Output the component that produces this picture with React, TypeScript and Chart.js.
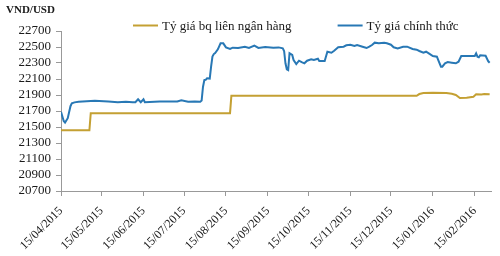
import React, { useEffect, useRef } from 'react';
import { Chart, registerables } from 'chart.js';

Chart.register(...registerables);

const START_DATE = '2015-04-15';
const END_DATE = '2016-02-27';

const tickDates = [
  '2015-04-15', '2015-05-15', '2015-06-15', '2015-07-15', '2015-08-15', '2015-09-15',
  '2015-10-15', '2015-11-15', '2015-12-15', '2016-01-15', '2016-02-15',
];
const tickLabels = [
  '15/04/2015', '15/05/2015', '15/06/2015', '15/07/2015', '15/08/2015', '15/09/2015',
  '15/10/2015', '15/11/2015', '15/12/2015', '15/01/2016', '15/02/2016',
];

const yMin = 20700;
const yMax = 22700;
const yStep = 200;

const seriesNames = ['Tỷ giá bq liên ngân hàng', 'Tỷ giá chính thức'];
const seriesColors = ['#c4a033', '#2878b5'];

const interbankDates = [
  '2015-04-15', '2015-05-06', '2015-05-07', '2015-08-18', '2015-08-19', '2016-01-03',
  '2016-01-05', '2016-01-08', '2016-01-15', '2016-01-25', '2016-01-29', '2016-02-01',
  '2016-02-04', '2016-02-09', '2016-02-14', '2016-02-16', '2016-02-20', '2016-02-22',
  '2016-02-26',
];
const interbankValues = [
  21458, 21458, 21673, 21673, 21890, 21890,
  21912, 21925, 21929, 21926, 21915, 21900,
  21862, 21865, 21878, 21908, 21905, 21912,
  21910,
];

const officialDates = [
  '2015-04-15', '2015-04-17', '2015-04-18', '2015-04-20', '2015-04-22', '2015-04-23',
  '2015-04-25', '2015-04-28', '2015-05-07', '2015-05-10', '2015-05-20', '2015-05-27',
  '2015-06-02', '2015-06-07', '2015-06-09', '2015-06-11', '2015-06-13', '2015-06-15',
  '2015-06-16', '2015-06-27', '2015-07-10', '2015-07-13', '2015-07-18', '2015-07-23',
  '2015-07-27', '2015-07-28', '2015-07-29', '2015-07-30', '2015-07-31', '2015-08-01',
  '2015-08-03', '2015-08-04', '2015-08-05', '2015-08-06', '2015-08-07', '2015-08-09',
  '2015-08-11', '2015-08-13', '2015-08-15', '2015-08-18', '2015-08-20', '2015-08-24',
  '2015-08-29', '2015-09-01', '2015-09-05', '2015-09-08', '2015-09-13', '2015-09-19',
  '2015-09-23', '2015-09-26', '2015-09-27', '2015-09-28', '2015-09-29', '2015-09-30',
  '2015-10-01', '2015-10-03', '2015-10-04', '2015-10-06', '2015-10-08', '2015-10-10',
  '2015-10-12', '2015-10-14', '2015-10-17', '2015-10-19', '2015-10-22', '2015-10-23',
  '2015-10-27', '2015-10-29', '2015-11-01', '2015-11-03', '2015-11-06', '2015-11-10',
  '2015-11-12', '2015-11-15', '2015-11-18', '2015-11-20', '2015-11-24', '2015-11-27',
  '2015-11-29', '2015-12-01', '2015-12-03', '2015-12-06', '2015-12-10', '2015-12-12',
  '2015-12-15', '2015-12-17', '2015-12-20', '2015-12-24', '2015-12-27', '2015-12-31',
  '2016-01-03', '2016-01-05', '2016-01-08', '2016-01-10', '2016-01-12', '2016-01-15',
  '2016-01-18', '2016-01-19', '2016-01-21', '2016-01-22', '2016-01-24', '2016-01-26',
  '2016-01-29', '2016-02-01', '2016-02-03', '2016-02-05', '2016-02-10', '2016-02-15',
  '2016-02-16', '2016-02-17', '2016-02-18', '2016-02-19', '2016-02-23', '2016-02-25',
  '2016-02-26',
];
const officialValues = [
  21690, 21575, 21555, 21610, 21760, 21795,
  21808, 21815, 21825, 21828, 21818, 21809,
  21816, 21809, 21810, 21846, 21810, 21846,
  21810, 21819, 21819, 21834, 21815, 21820,
  21815, 21830, 22000, 22087, 22090, 22110,
  22105, 22254, 22380, 22412, 22425, 22471,
  22546, 22546, 22496, 22475, 22492, 22488,
  22504, 22488, 22517, 22488, 22500, 22492,
  22495, 22483, 22450, 22296, 22221, 22212,
  22421, 22400, 22337, 22287, 22329, 22312,
  22296, 22329, 22346, 22337, 22354, 22325,
  22325, 22441, 22429, 22454, 22496, 22504,
  22521, 22529, 22512, 22525, 22504, 22487,
  22504, 22525, 22554, 22546, 22554, 22546,
  22529, 22496, 22483, 22504, 22504, 22475,
  22466, 22450, 22429, 22441, 22421, 22387,
  22379, 22337, 22254, 22254, 22296, 22312,
  22304, 22296, 22316, 22387, 22387, 22387,
  22421, 22379, 22371, 22396, 22390, 22321,
  22304,
];

const axisTitle = 'VND/USD';

const FONT = "'Liberation Serif', 'Times New Roman', serif";

const dayOf = (iso: string) =>
  (Date.parse(iso + 'T00:00:00Z') - Date.parse(START_DATE + 'T00:00:00Z')) / 86400000;

const toPoints = (dates: string[], values: number[]) =>
  dates.map((d, i) => ({ x: dayOf(d), y: values[i] }));

const headerPlugin = {
  id: 'header',
  afterDraw(chart: any) {
    const ctx = chart.ctx;
    const area = chart.chartArea;
    ctx.save();
    ctx.fillStyle = '#1a1a1a';
    ctx.font = `bold 11px ${FONT}`;
    ctx.textAlign = 'left';
    ctx.textBaseline = 'middle';
    ctx.fillText(axisTitle, 6, 10);

    ctx.font = `13px ${FONT}`;
    let x = area.left + 72;
    const y = 25.5;
    chart.data.datasets.forEach((ds: any) => {
      ctx.strokeStyle = ds.borderColor;
      ctx.lineWidth = 2;
      ctx.beginPath();
      ctx.moveTo(x, y);
      ctx.lineTo(x + 25, y);
      ctx.stroke();
      ctx.fillStyle = '#1a1a1a';
      ctx.fillText(ds.label, x + 29, y + 1);
      const w = ctx.measureText(ds.label).width;
      x = x + 29 + w + 46;
    });
    ctx.restore();
  },
};

export default function App() {
  const ref = useRef<HTMLCanvasElement | null>(null);

  useEffect(() => {
    document.body.style.margin = '0';
    const canvas = ref.current;
    if (!canvas) return;
    const chart = new Chart(canvas, {
      type: 'line',
      data: {
        datasets: [
          {
            label: seriesNames[0],
            data: toPoints(interbankDates, interbankValues),
            borderColor: seriesColors[0],
            backgroundColor: seriesColors[0],
            borderWidth: 2,
            pointRadius: 0,
            tension: 0,
          },
          {
            label: seriesNames[1],
            data: toPoints(officialDates, officialValues),
            borderColor: seriesColors[1],
            backgroundColor: seriesColors[1],
            borderWidth: 2,
            pointRadius: 0,
            tension: 0,
          },
        ],
      },
      options: {
        responsive: false,
        animation: false,
        devicePixelRatio: 1,
        layout: { padding: { top: 31, right: 9, left: 0, bottom: 0 } },
        plugins: {
          legend: { display: false },
          tooltip: { enabled: false },
          title: { display: false },
        },
        scales: {
          x: {
            type: 'linear',
            min: 0,
            max: dayOf(END_DATE),
            afterBuildTicks: (s: any) => {
              s.ticks = tickDates.map((d) => ({ value: dayOf(d) }));
            },
            afterFit: (s: any) => {
              s.height = 65;
            },
            ticks: {
              autoSkip: false,
              minRotation: 45,
              maxRotation: 45,
              padding: 8,
              color: '#1a1a1a',
              font: { family: FONT, size: 12 },
              callback: (_v: any, i: number) => tickLabels[i],
            },
            grid: {
              drawOnChartArea: false,
              drawTicks: true,
              tickLength: 5,
              color: '#999999',
            },
            border: { color: '#999999', width: 1 },
          },
          y: {
            min: yMin,
            max: yMax,
            afterFit: (s: any) => {
              s.width = 61;
            },
            ticks: {
              stepSize: yStep,
              autoSkip: false,
              padding: 5,
              color: '#1a1a1a',
              font: { family: FONT, size: 13 },
              callback: (v: any) => String(v),
            },
            grid: {
              drawOnChartArea: false,
              drawTicks: true,
              tickLength: 5,
              color: '#999999',
            },
            border: { color: '#999999', width: 1 },
          },
        },
      },
      plugins: [headerPlugin],
    } as any);
    return () => chart.destroy();
  }, []);

  return (
    <div style={{ width: 500, height: 256, background: '#fff' }}>
      <canvas ref={ref} width={500} height={256} />
    </div>
  );
}
